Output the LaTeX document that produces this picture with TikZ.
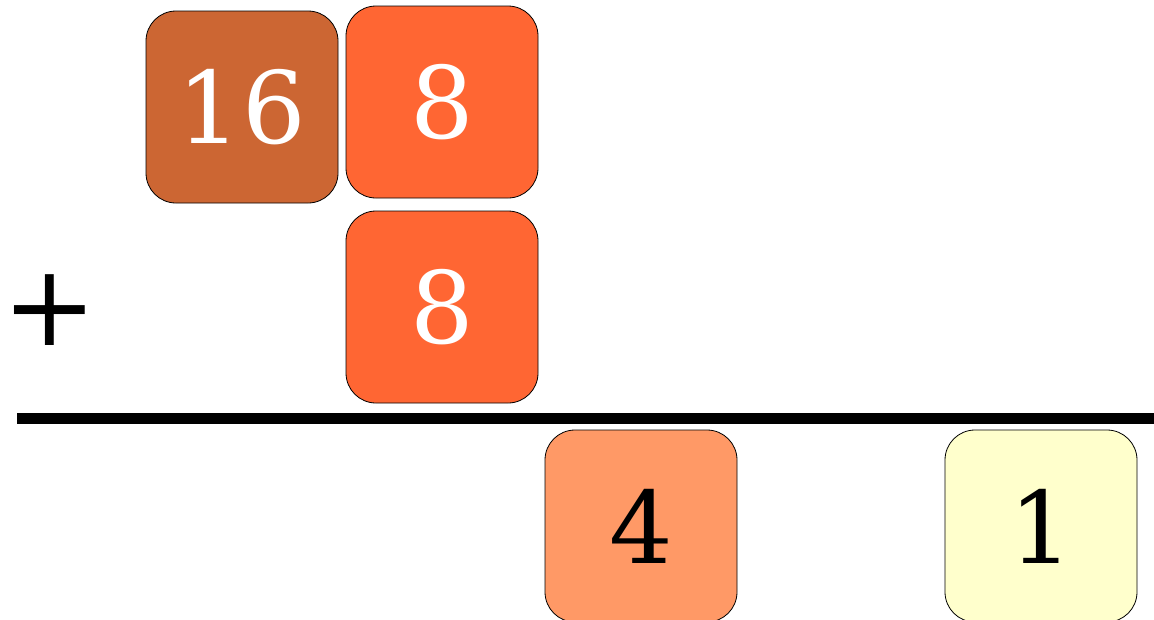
\documentclass[tikz,border=0pt]{standalone}
\usepackage{fontspec}
\setmainfont{DejaVu Serif}
\definecolor{cbrown}{HTML}{CC6633}
\definecolor{corange}{HTML}{FF6633}
\definecolor{clight}{HTML}{FF9966}
\definecolor{cyel}{HTML}{FFFFCC}
\tikzset{
  tile/.style={draw=black, line width=0.8pt, rounded corners=30pt, minimum width=192pt, minimum height=192pt, inner sep=0pt, font=\fontsize{100}{100}\selectfont},
}
\begin{document}
\begin{tikzpicture}[x=1pt,y=-1pt]
\useasboundingbox (0,0) rectangle (1154,619);
\node[tile, fill=cbrown, text=white] (t16) at (242,107) {1\kern1pt6};
\node[tile, fill=corange, text=white] (t8a) at (442,102) {8};
\node[tile, fill=corange, text=white] (t8b) at (442,307) {8};
\node[tile, fill=clight, text=black] (t4) at (641,526) {4};
\node[tile, fill=cyel, text=black] (t1) at (1041,526) {1};
\node[font=\fontsize{113}{113}\selectfont, inner sep=0pt] (plus) at (50,310) {+};
\coordinate (la) at (17,418);
\coordinate (lb) at (1154,418);
\draw[line width=11pt] (la) -- (lb);
\end{tikzpicture}
\end{document}
